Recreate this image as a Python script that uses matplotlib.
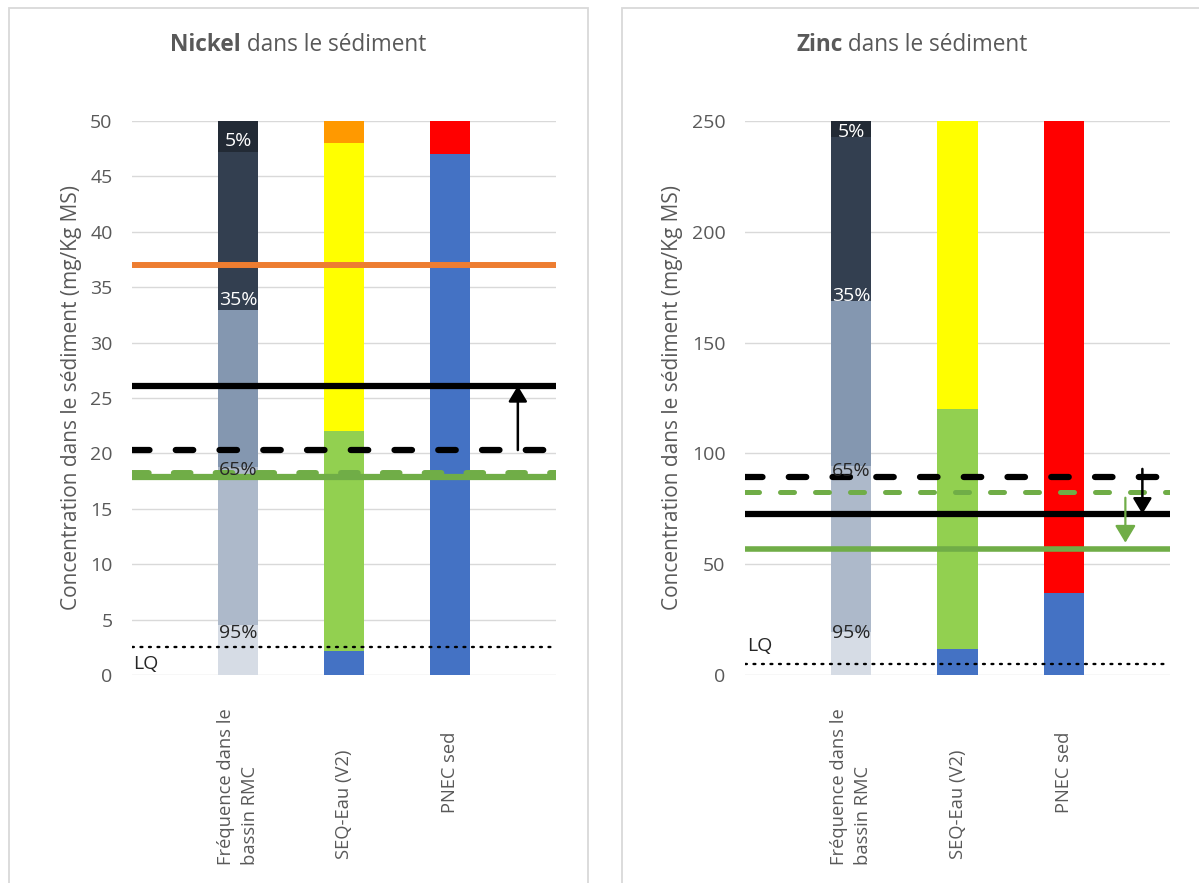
import matplotlib
matplotlib.use("Agg")
import matplotlib.pyplot as plt
from matplotlib.patches import Rectangle

plt.rcParams['font.family'] = ['Open Sans', 'DejaVu Sans']

# categories
categories = ["Fréquence dans le\nbassin RMC", "SEQ-Eau (V2)", "PNEC sed"]

# Nickel (mg/Kg MS) - tops of each stacked segment
ni_freq_tops = [4.5, 18.8, 32.9, 47.2, 50]
ni_freq_labels = ["95%", "65%", "35%", "5%"]
ni_seq_tops = [2.2, 22, 48, 50]
ni_pnec_tops = [47, 50]
ni_orange = 37
ni_black_solid = 26.1
ni_black_dashed = 20.3
ni_green_dashed = 18.2
ni_green_solid = 17.9
ni_lq = 2.5
ni_arrow_black = (20.3, 26.1)

# Zinc (mg/Kg MS)
zn_freq_tops = [19.5, 94.4, 168.8, 242.9, 250]
zn_freq_labels = ["95%", "65%", "35%", "5%"]
zn_seq_tops = [11.7, 120, 250]
zn_pnec_tops = [37, 250]
zn_black_dashed = 89.5
zn_green_dashed = 82.6
zn_black_solid = 72.7
zn_green_solid = 56.7
zn_lq = 5
zn_arrow_black = (93, 72.7)
zn_arrow_green = (80, 59.7)

freq_colors = ['#d6dce5', '#adb9ca', '#8497b0', '#333f50', '#222a35']
seq_colors_ni = ['#4472c4', '#92d050', '#ffff00', '#ff9900']
seq_colors_zn = ['#4472c4', '#92d050', '#ffff00']
pnec_colors = ['#4472c4', '#ff0000']
grey = '#595959'

W, H = 1199, 883
fig = plt.figure(figsize=(W / 100, H / 100), dpi=100)


def stack(ax, x, tops, colors):
    base = 0
    for top, c in zip(tops, colors):
        ax.bar(x, top - base, bottom=base, width=0.377, color=c, linewidth=0)
        base = top


def hline(ax, y, color, lw, dashed=False, dotted=False):
    ln, = ax.plot([0, 4], [y, y], color=color, lw=lw, solid_capstyle='butt', zorder=4)
    if dashed:
        ln.set_dashes((2.8, 4.2))
        ln.set_dash_capstyle('round')
    if dotted:
        ln.set_dashes((0.8, 2.8))
        ln.set_dash_capstyle('round')
    return ln


def arrow(ax, x, y0, y1, color, lw, ms):
    ax.annotate('', xy=(x, y1), xytext=(x, y0),
                arrowprops=dict(arrowstyle='-|>,head_length=0.5,head_width=0.3',
                                color=color, lw=lw, mutation_scale=ms,
                                shrinkA=0, shrinkB=0), zorder=6)


def setup(ax, ymax, step):
    ax.set_xlim(0, 4)
    ax.set_ylim(0, ymax)
    ax.set_yticks(range(0, ymax + 1, step))
    ax.set_xticks([])
    ax.grid(axis='y', color='#d9d9d9', lw=1.0)
    ax.set_axisbelow(True)
    for s in ax.spines.values():
        s.set_visible(False)
    ax.tick_params(axis='y', length=0, pad=14, labelsize=14, labelcolor=grey)
    ax.set_ylabel("Concentration dans le sédiment (mg/Kg MS)", fontsize=15,
                  color=grey, labelpad=6)
    # category labels
    ypix = [787, 804, 772]
    for i, (cat, yp) in enumerate(zip(categories, ypix)):
        ax.text(i + 1, 1 - (yp - 121) / 554, cat, rotation=90, ha='center', va='center',
                multialignment='left', fontsize=13.2, color=grey, linespacing=1.45,
                transform=ax.get_xaxis_transform())


def pct_labels(ax, tops, labels, offsets):
    for top, lab, off, c in zip(tops, labels, offsets, ['#262626', '#262626', 'white', 'white']):
        ax.annotate(lab, xy=(1, top), xytext=(0, off * 0.72), textcoords='offset points',
                    ha='center', va='center', fontsize=14, color=c, zorder=8)


# ---------- Nickel ----------
ax1 = fig.add_axes([132 / W, 1 - 675 / H, 424 / W, 554 / H])
setup(ax1, 50, 5)
stack(ax1, 1, ni_freq_tops, freq_colors)
stack(ax1, 2, ni_seq_tops, seq_colors_ni)
stack(ax1, 3, ni_pnec_tops, pnec_colors)
pct_labels(ax1, ni_freq_tops, ni_freq_labels, [-7.7, -3.5, 10, 11.5])
hline(ax1, ni_orange, '#ed7d31', 4.3)
hline(ax1, ni_green_solid, '#70ad47', 4.5)
hline(ax1, ni_green_dashed, '#70ad47', 4.3, dashed=True)
hline(ax1, ni_black_dashed, 'black', 4.5, dashed=True)
hline(ax1, ni_black_solid, 'black', 4.5)
hline(ax1, ni_lq, 'black', 1.7, dotted=True)
ax1.text(0.01, 1.0, "LQ", fontsize=14, color='#262626', va='center', ha='left')
arrow(ax1, 3.64, ni_arrow_black[0], ni_arrow_black[1], 'black', 1.8, 19)

# ---------- Zinc ----------
ax2 = fig.add_axes([745 / W, 1 - 675 / H, 425 / W, 554 / H])
setup(ax2, 250, 50)
stack(ax2, 1, zn_freq_tops, freq_colors)
stack(ax2, 2, zn_seq_tops, seq_colors_zn)
stack(ax2, 3, zn_pnec_tops, pnec_colors)
pct_labels(ax2, zn_freq_tops, zn_freq_labels, [-1, -5, 5, 4.7])
hline(ax2, zn_green_solid, '#70ad47', 4.0)
hline(ax2, zn_green_dashed, '#70ad47', 3.6, dashed=True)
hline(ax2, zn_black_dashed, 'black', 4.5, dashed=True)
hline(ax2, zn_black_solid, 'black', 4.5)
hline(ax2, zn_lq, 'black', 1.7, dotted=True)
ax2.text(0.02, 13, "LQ", fontsize=14, color='#262626', va='center', ha='left')
arrow(ax2, 3.74, zn_arrow_black[0], zn_arrow_black[1], 'black', 1.8, 19)
arrow(ax2, 3.58, zn_arrow_green[0], zn_arrow_green[1], '#70ad47', 1.6, 21)

# ---------- panel frames ----------
fig.add_artist(Rectangle((8.5 / W, -0.05), (588 - 8.5) / W, 1.05 - 7.5 / H,
                         transform=fig.transFigure, fill=False, ec='#d9d9d9', lw=1.3))
fig.add_artist(Rectangle((622 / W, -0.05), 0.5, 1.05 - 7.5 / H,
                         transform=fig.transFigure, fill=False, ec='#d9d9d9', lw=1.3))

# ---------- titles ----------
renderer = fig.canvas.get_renderer()


def title(cx, bold, rest):
    y = 1 - 45 / H
    t1 = fig.text(0, y, bold, fontweight='bold', fontsize=16.3, color=grey, va='center')
    t2 = fig.text(0, y, rest, fontsize=16.3, color=grey, va='center')
    w1 = t1.get_window_extent(renderer).width
    w2 = t2.get_window_extent(renderer).width
    x0 = cx - (w1 + w2) / 2
    t1.set_x(x0 / W)
    t2.set_x((x0 + w1) / W)


title(298, "Nickel", " dans le sédiment")
title(912, "Zinc", " dans le sédiment")

fig.savefig("out.png", dpi=100, facecolor='white')
